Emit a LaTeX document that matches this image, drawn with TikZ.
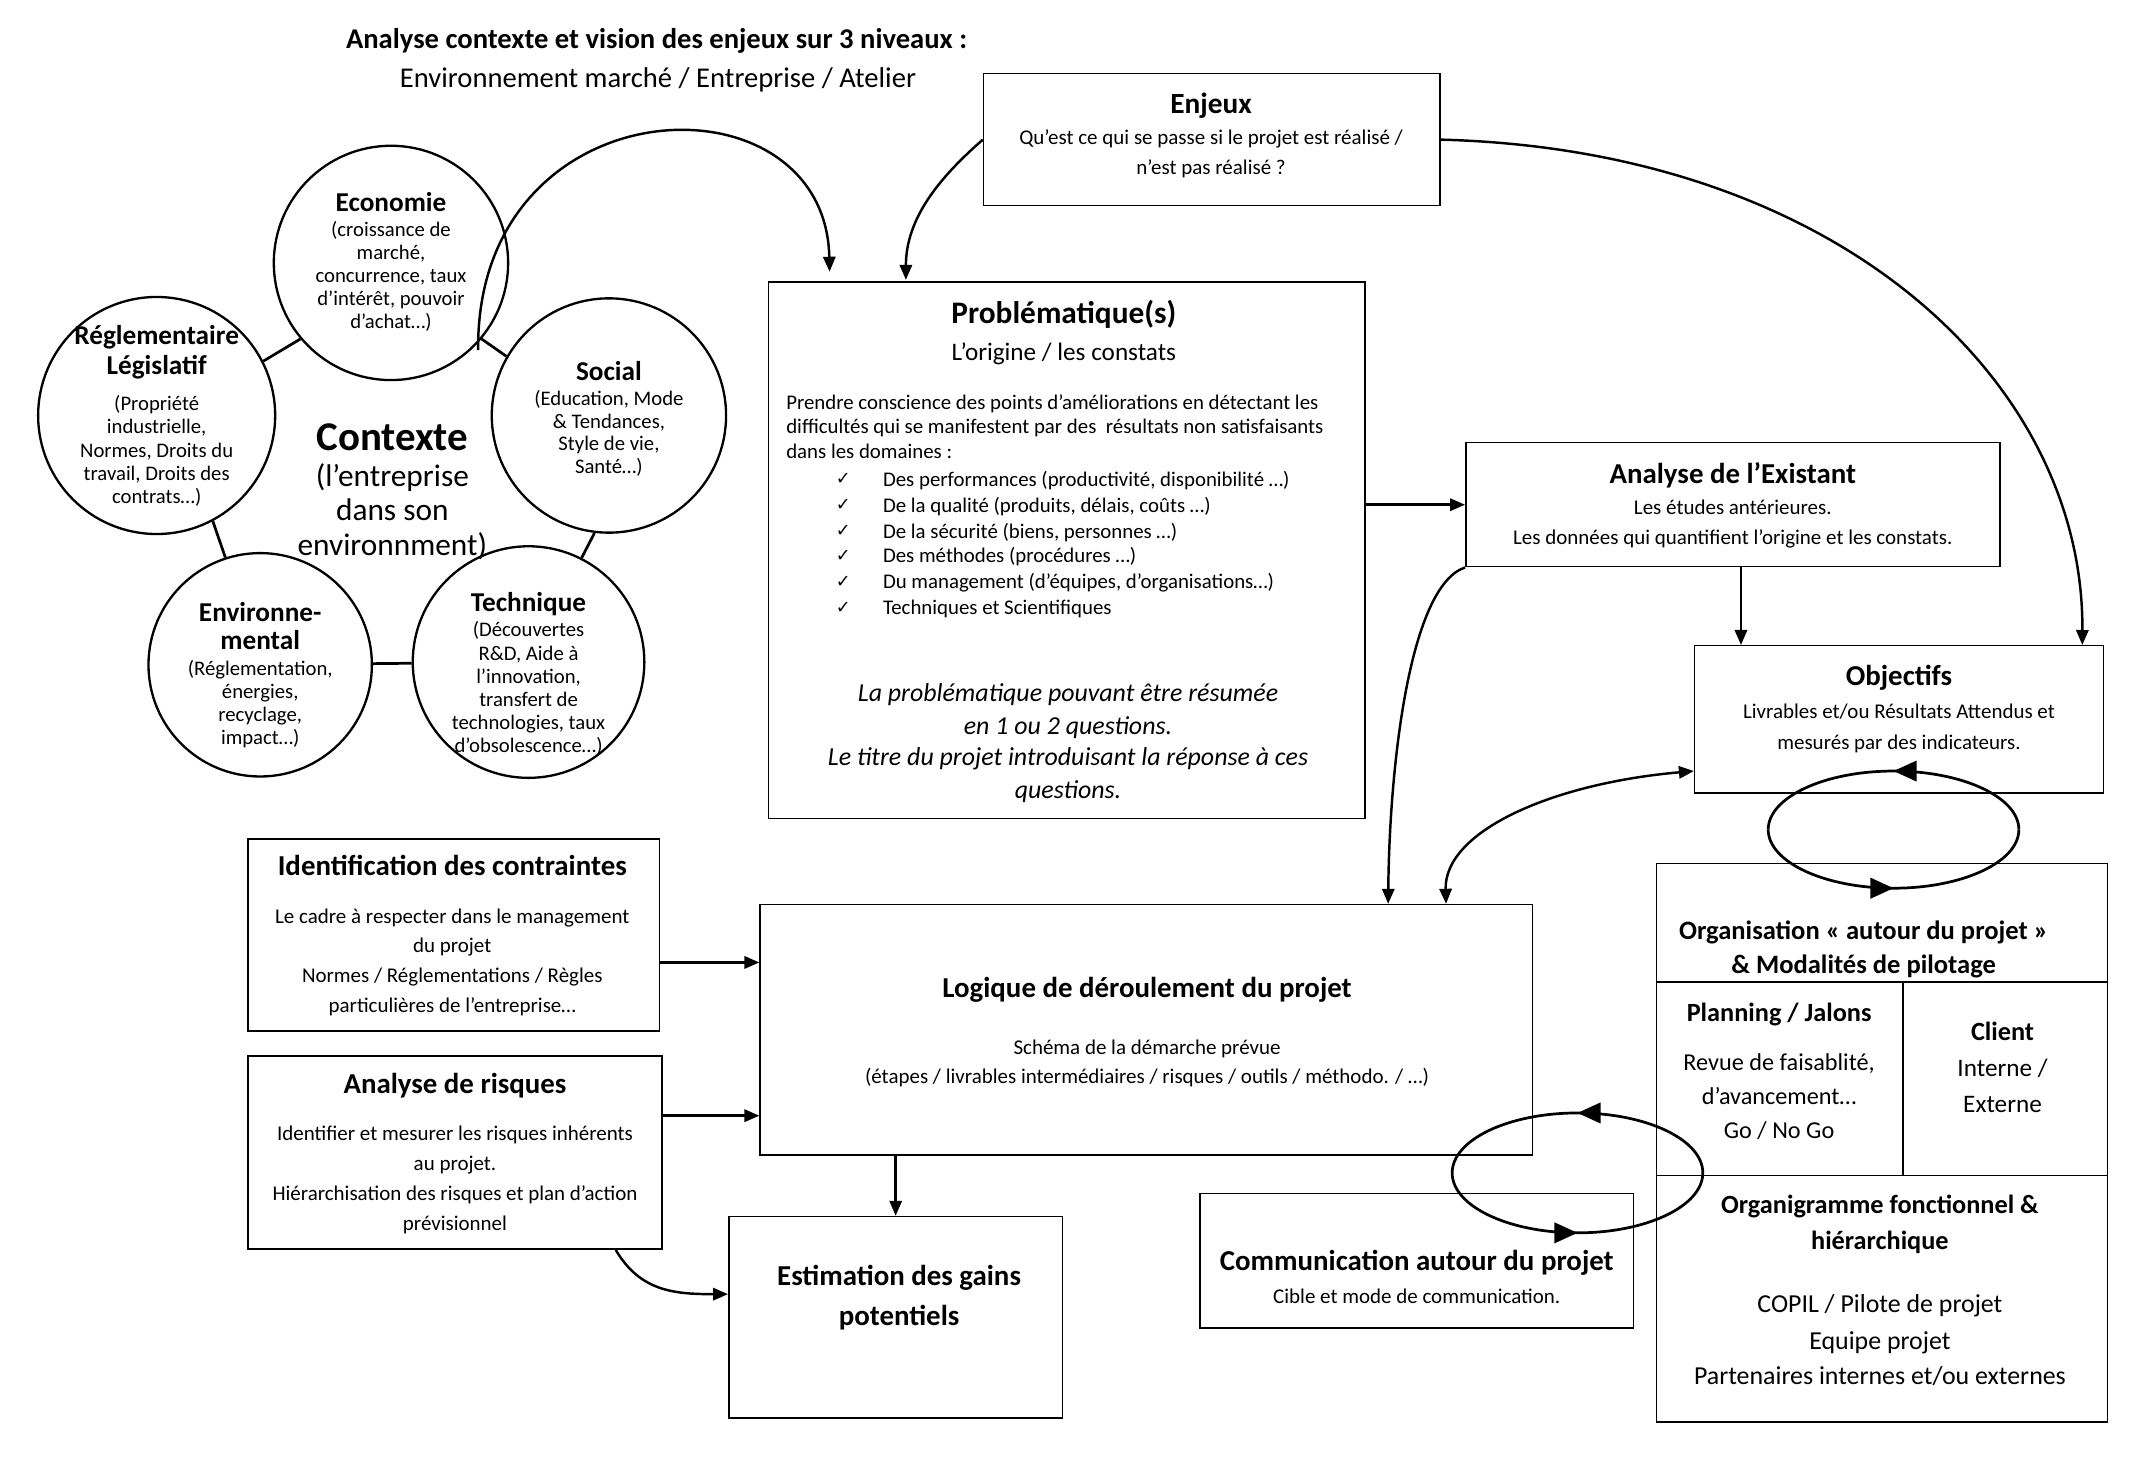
\documentclass[tikz,border=0pt]{standalone}
\usepackage{fontspec}
\setmainfont{Carlito}
\newfontfamily\symf{DejaVu Sans}
\usetikzlibrary{arrows.meta,decorations.markings}
\newcommand\fsz[1]{\fontsize{#1}{#1}\selectfont}
\begin{document}
\begin{tikzpicture}[x=1pt,y=-1pt,
  box/.style={draw,line width=1.1pt,inner sep=0pt},
  circ/.style={draw,circle,line width=1.7pt,fill=white,inner sep=0pt,minimum size=#1},
  link/.style={line width=2pt},
  arr/.style={line width=1.8pt,-{Triangle[length=11pt,width=9pt]}},
  darr/.style={line width=1.8pt,{Triangle[length=11pt,width=9pt]}-{Triangle[length=11pt,width=9pt]}},
  loopa/.style={line width=2pt,postaction={decorate},decoration={markings,mark=at position 0.5 with {\arrow{Triangle[length=17pt,width=15pt]}}}},
  tx/.style={inner sep=0pt,anchor=base},
  tl/.style={inner sep=0pt,anchor=base west},
  ttl/.style={tx,font=\fsz{21}\bfseries},
  sub/.style={tx,font=\fsz{21}},
  ct/.style={tx,font=\fsz{20}\bfseries},
  cb/.style={tx,font=\fsz{15.2}},
  bt/.style={tx,font=\fsz{21.2}\bfseries},
  bb/.style={tx,font=\fsz{15.4}},
  ot/.style={tx,font=\fsz{19.3}\bfseries},
  it/.style={tx,font=\fsz{19}\itshape},
  li/.style={tl,font=\fsz{15.3}},
  ck/.style={tx,font=\symf\fsz{13}}
]
\fill[white] (0,0) rectangle (1568,1069);
\useasboundingbox (0,0) rectangle (1568,1069);

% ---------- headings
\node[ttl] (title) at (482,35.5) {Analyse contexte et vision des enjeux sur 3 niveaux :};
\node[sub] (subtitle) at (483,64.5) {Environnement marché / Entreprise / Atelier};

% ---------- context circles
\node[circ=172] (eco) at (287,193) {};
\node[circ=174] (reg) at (115,305) {};
\node[circ=172] (soc) at (447,305) {};
\node[circ=164] (env) at (191,488) {};
\node[circ=170] (tech) at (388,486) {};
\draw[link] (reg.27) -- (eco.220);
\draw[link] (eco.320) -- (soc.150);
\draw[link] (reg.298) -- (env.108);
\draw[link] (soc.263) -- (tech.63);
\draw[link] (env) -- (tech);

\node[ct] (ecoT) at (287,155) {Economie};
\node[cb] (eco1) at (287,173.5) {(croissance de};
\node[cb] (eco2) at (287,190.5) {marché,};
\node[cb] (eco3) at (287,207.5) {concurrence, taux};
\node[cb] (eco4) at (287,224.5) {d'intérêt, pouvoir};
\node[cb] (eco5) at (287,241.5) {d'achat…)};

\node[ct] (regT1) at (115,253) {Réglementaire};
\node[ct] (regT2) at (115,275) {Législatif};
\node[cb] (reg1) at (115,301.5) {(Propriété};
\node[cb] (reg2) at (115,318.5) {industrielle,};
\node[cb] (reg3) at (115,335.5) {Normes, Droits du};
\node[cb] (reg4) at (115,352.5) {travail, Droits des};
\node[cb] (reg5) at (115,369.5) {contrats…)};

\node[ct] (socT) at (447,279) {Social};
\node[cb] (soc1) at (447,297.5) {(Education, Mode};
\node[cb] (soc2) at (447,314.5) {\& Tendances,};
\node[cb] (soc3) at (447,330.5) {Style de vie,};
\node[cb] (soc4) at (447,347.5) {Santé…)};

\node[ct] (envT1) at (191,456) {Environne-};
\node[ct] (envT2) at (191,477) {mental};
\node[cb] (env1) at (191,495.5) {(Réglementation,};
\node[cb] (env2) at (191,512.5) {énergies,};
\node[cb] (env3) at (191,529.5) {recyclage,};
\node[cb] (env4) at (191,546.5) {impact…)};

\node[ct] (techT) at (388,449) {Technique};
\node[cb] (tech1) at (388,467.5) {(Découvertes};
\node[cb] (tech2) at (388,484.5) {R\&D, Aide à};
\node[cb] (tech3) at (388,501.5) {l'innovation,};
\node[cb] (tech4) at (388,518.5) {transfert de};
\node[cb] (tech5) at (388,535.5) {technologies, taux};
\node[cb] (tech6) at (388,552.5) {d'obsolescence…)};

\node[tx,font=\fsz{30}\bfseries] (ctx1) at (288,331) {Contexte};
\node[tx,font=\fsz{23}] (ctx2) at (288,357) {(l'entreprise};
\node[tx,font=\fsz{23}] (ctx3) at (288,382) {dans son};
\node[tx,font=\fsz{23}] (ctx4) at (288,408) {environnment)};

% ---------- boxes
\node[box,minimum width=335,minimum height=97] (enj) at (889.5,102.5) {};
\node[box,minimum width=438,minimum height=394] (prob) at (783,404) {};
\node[box,minimum width=392,minimum height=91] (ax) at (1272,370.5) {};
\node[box,minimum width=300,minimum height=108] (obj) at (1394,528) {};
\node[box,minimum width=331,minimum height=410] (org) at (1381.5,839) {};
\node[box,minimum width=302,minimum height=141] (ident) at (333,686.5) {};
\node[box,minimum width=304,minimum height=142] (risk) at (334,846) {};
\node[box,minimum width=567,minimum height=184] (logi) at (841.5,756) {};
\node[box,minimum width=245,minimum height=148] (est) at (657.5,967) {};
\node[box,minimum width=318,minimum height=99] (comm) at (1040,925.5) {};

% organisation dividers
\draw[line width=1.1pt] (1216,721) -- (1547,721);
\draw[line width=1.1pt] (1397,721) -- (1397,863);
\draw[line width=1.1pt] (1216,863) -- (1547,863);

% ---------- box texts
\node[tx,font=\fsz{21.5}\bfseries] (enjT) at (889,83) {Enjeux};
\node[bb] (enj1) at (889,106) {Qu’est ce qui se passe si le projet est réalisé /};
\node[bb] (enj2) at (889,128) {n’est pas réalisé ?};

\node[tx,font=\fsz{23}\bfseries] (probT) at (781,237.5) {Problématique(s)};
\node[tx,font=\fsz{18.5}] (probS) at (781,264.5) {L’origine / les constats};
\node[li] (p1) at (577,300.5) {Prendre conscience des points d’améliorations en détectant les};
\node[li] (p2) at (577,318.5) {difficultés qui se manifestent par des \ résultats non satisfaisants};
\node[li] (p3) at (577,336.5) {dans les domaines :};
\node[ck] (c1) at (619,356) {✓};
\node[ck] (c2) at (619,375) {✓};
\node[ck] (c3) at (619,394) {✓};
\node[ck] (c4) at (619,412) {✓};
\node[ck] (c5) at (619,431) {✓};
\node[ck] (c6) at (619,450) {✓};
\node[li] (i1) at (648,357) {Des performances (productivité, disponibilité …)};
\node[li] (i2) at (648,376) {De la qualité (produits, délais, coûts …)};
\node[li] (i3) at (648,395) {De la sécurité (biens, personnes …)};
\node[li] (i4) at (648,413) {Des méthodes (procédures …)};
\node[li] (i5) at (648,432) {Du management (d’équipes, d’organisations…)};
\node[li] (i6) at (648,451) {Techniques et Scientifiques};
\node[it] (q1) at (784,515) {La problématique pouvant être résumée};
\node[it] (q2) at (784,539) {en 1 ou 2 questions.};
\node[it] (q3) at (784,562) {Le titre du projet introduisant la réponse à ces};
\node[it] (q4) at (784,586) {questions.};

\node[bt] (axT) at (1272,355) {Analyse de l’Existant};
\node[bb] (ax1) at (1272,378) {Les études antérieures.};
\node[bb] (ax2) at (1272,400) {Les données qui quantifient l’origine et les constats.};

\node[bt] (objT) at (1394,503) {Objectifs};
\node[bb] (obj1) at (1394,527.5) {Livrables et/ou Résultats Attendus et};
\node[bb] (obj2) at (1394,550.5) {mesurés par des indicateurs.};

\node[tx,font=\fsz{19.5}\bfseries] (orgT1) at (1368,689.5) {Organisation « autour du projet »};
\node[tx,font=\fsz{19.5}\bfseries] (orgT2) at (1368,714.5) {\& Modalités de pilotage};
\node[ot] (planT) at (1306,750) {Planning / Jalons};
\node[tx,font=\fsz{17.8}] (plan1) at (1306,785.5) {Revue de faisablité,};
\node[tx,font=\fsz{17.8}] (plan2) at (1306,810.5) {d’avancement…};
\node[tx,font=\fsz{17.8}] (plan3) at (1306,835.5) {Go / No Go};
\node[ot] (cliT) at (1470,764) {Client};
\node[tx,font=\fsz{18.5}] (cli1) at (1470,790.5) {Interne /};
\node[tx,font=\fsz{18.5}] (cli2) at (1470,816.5) {Externe};
\node[ot] (orgaT1) at (1380,891) {Organigramme fonctionnel \&};
\node[ot] (orgaT2) at (1380,917) {hiérarchique};
\node[tx,font=\fsz{19}] (orga1) at (1380,963.5) {COPIL / Pilote de projet};
\node[tx,font=\fsz{19}] (orga2) at (1380,990.5) {Equipe projet};
\node[tx,font=\fsz{19}] (orga3) at (1380,1016.5) {Partenaires internes et/ou externes};

\node[bt] (idT) at (332,643) {Identification des contraintes};
\node[bb] (id1) at (332,678) {Le cadre à respecter dans le management};
\node[bb] (id2) at (332,699) {du projet};
\node[bb] (id3) at (332,721) {Normes / Réglementations / Règles};
\node[bb] (id4) at (332,743) {particulières de l’entreprise…};

\node[bt] (riT) at (334,803) {Analyse de risques};
\node[bb] (ri1) at (334,837) {Identifier et mesurer les risques inhérents};
\node[bb] (ri2) at (334,859) {au projet.};
\node[bb] (ri3) at (334,881) {Hiérarchisation des risques et plan d’action};
\node[bb] (ri4) at (334,903) {prévisionnel};

\node[bt] (loT) at (842,732) {Logique de déroulement du projet};
\node[bb] (lo1) at (842,774) {Schéma de la démarche prévue};
\node[bb] (lo2) at (842,795) {(étapes / livrables intermédiaires / risques / outils / méthodo. / …)};

\node[bt] (esT1) at (660,944) {Estimation des gains};
\node[bt] (esT2) at (660,973) {potentiels};

\node[bt] (coT) at (1040,933) {Communication autour du projet};
\node[bb] (co1) at (1040,957) {Cible et mode de communication.};

% ---------- connectors
\coordinate (ctxs) at (351,257);
\draw[arr] (ctxs) .. controls (349,60) and (606,50) .. ([xshift=-174pt,yshift=7pt]prob.north);
\draw[arr] (enj.west) .. controls (690,130) and (665,160) .. ([xshift=-118pt,yshift=1pt]prob.north);
\draw[arr] (enj.east) .. controls (1350,110) and (1530,280) .. ([xshift=-16pt]obj.north east);
\draw[arr] (prob.east |- ax.west) -- (ax.west);
\draw[arr] ([xshift=6pt]ax.south) -- ([xshift=6pt]ax.south |- obj.north);
\draw[arr] (ax.south west) .. controls (1035,430) and (1020,560) .. ([xshift=177.5pt]logi.north);
\draw[darr] ([xshift=220pt]logi.north) .. controls (1060,610) and (1140,575) .. ([yshift=-38pt]obj.west);
\draw[arr] ([yshift=-20pt]ident.east) -- ([yshift=-20pt]ident.east -| logi.west);
\draw[arr] ([yshift=27pt]risk.east) -- ([yshift=27pt]risk.east -| logi.west);
\draw[arr] (est.north |- logi.south) -- (est.north);
\draw[arr] ([xshift=118pt]risk.south) .. controls (470,948) and (495,950) .. ([yshift=17pt]est.west);

% ---------- cycles
\coordinate (l1r) at (1482,609);
\coordinate (l1l) at (1298,609);
\draw[loopa] (l1r) arc[start angle=0,end angle=180,x radius=92pt,y radius=43pt];
\draw[loopa] (l1l) arc[start angle=180,end angle=360,x radius=92pt,y radius=43pt];
\coordinate (l2r) at (1250,861);
\coordinate (l2l) at (1066,861);
\draw[loopa] (l2r) arc[start angle=0,end angle=180,x radius=92pt,y radius=44pt];
\draw[loopa] (l2l) arc[start angle=180,end angle=360,x radius=92pt,y radius=44pt];
\end{tikzpicture}
\end{document}
